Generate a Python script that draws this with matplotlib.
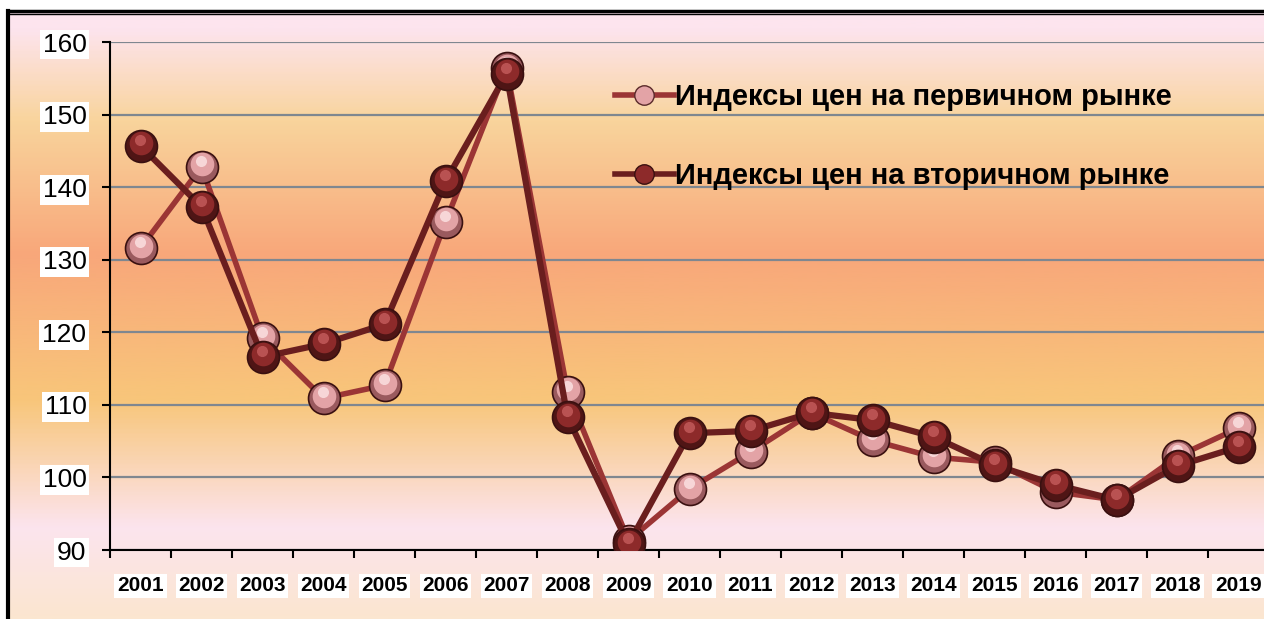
import matplotlib
matplotlib.use('Agg')
import numpy as np
import matplotlib.pyplot as plt
from matplotlib.colors import LinearSegmentedColormap
from matplotlib.transforms import offset_copy

years = ['2001', '2002', '2003', '2004', '2005', '2006', '2007', '2008', '2009', '2010',
         '2011', '2012', '2013', '2014', '2015', '2016', '2017', '2018', '2019']
primary = [131.6, 142.8, 119.2, 110.9, 112.7, 135.2, 156.4, 111.8, 91.3, 98.4,
           103.5, 108.9, 105.1, 102.8, 102.1, 98.0, 96.9, 102.9, 106.8]
secondary = [145.7, 137.3, 116.6, 118.4, 121.1, 140.8, 155.6, 108.3, 90.8, 106.1,
             106.4, 108.9, 107.9, 105.6, 101.7, 99.0, 96.9, 101.6, 104.2]
label_primary = 'Индексы цен на первичном рынке'
label_secondary = 'Индексы цен на вторичном рынке'
yticks = [90, 100, 110, 120, 130, 140, 150, 160]

plt.rcParams['font.family'] = ['Liberation Sans', 'DejaVu Sans']

W, H = 1264, 619
fig = plt.figure(figsize=(W / 100, H / 100), dpi=100)
fig.patch.set_facecolor('white')

# background panel with vertical gradient (from 650px below top down to top border)
bg = fig.add_axes([8 / W, -31 / H, 1.0, 639 / H])
stops = [(0.0, '#fbe8d0'), (0.05, '#fbe6d0'), (0.19, '#fce4ee'), (0.39, '#f8c67a'),
         (0.62, '#f8a77a'), (0.83, '#f9d49c'), (0.975, '#fde4ee'), (1.0, '#fde5ee')]
cmap = LinearSegmentedColormap.from_list('bg', stops)
grad = np.linspace(0, 1, 400).reshape(-1, 1)
bg.imshow(grad, cmap=cmap, aspect='auto', origin='lower', extent=[0, 1, 0, 1])
bg.set_xticks([])
bg.set_yticks([])
for s in ['right', 'bottom']:
    bg.spines[s].set_visible(False)
bg.spines['left'].set_linewidth(3)
bg.spines['top'].set_linewidth(2.5)
bg.axhline(1 - 2.5 / 639, color='black', lw=1)

# plot area
x0, y0 = 110, 550
ax = fig.add_axes([x0 / W, (H - y0) / H, 19 * 61 / W, (550 - 42) / H])
ax.patch.set_alpha(0)
x = np.arange(1, len(years) + 1)

ax.set_xlim(0.5, len(years) + 0.5)
ax.set_ylim(90, 160)
ax.set_yticks(yticks)
ax.grid(axis='y', color='#7f8790', lw=1.6)
ax.set_axisbelow(True)

for s in ['right', 'top']:
    ax.spines[s].set_visible(False)
ax.spines['left'].set_linewidth(1.5)
ax.spines['bottom'].set_linewidth(1.5)

ax.set_xticks(np.arange(0.5, len(years) + 1, 1))
ax.set_xticklabels([])
ax.set_xticks(x, minor=True)
ax.set_xticklabels(years, minor=True, fontsize=15, fontweight='bold')
ax.tick_params(axis='x', which='major', direction='out', length=6, width=1.5)
ax.tick_params(axis='x', which='minor', length=0, pad=19)
ax.tick_params(axis='y', direction='out', length=6, width=1.5, labelsize=19, pad=11)
for t in ax.get_xticklabels(minor=True) + ax.get_yticklabels():
    t.set_bbox(dict(facecolor='white', edgecolor='none', pad=2))


def sphere(ax, yv, base, mid, light, z, line=None, lw=4):
    ax.plot(x, yv, color=line, lw=lw, zorder=z, solid_capstyle='round')
    ax.plot(x, yv, 'o', ms=23, mfc=base, mec='#3a1010', mew=1.2, zorder=z + 0.1)
    up = offset_copy(ax.transData, fig=fig, x=0, y=2.5, units='dots')
    ax.plot(x, yv, 'o', ms=17, mfc=mid, mec='none', zorder=z + 0.2, transform=up)
    up2 = offset_copy(ax.transData, fig=fig, x=-1, y=6, units='dots')
    ax.plot(x, yv, 'o', ms=8, mfc=light, mec='none', zorder=z + 0.3, transform=up2, alpha=0.85)


sphere(ax, primary, '#9a5a5e', '#e3a3a6', '#fbe0e0', 3, line='#9b3535', lw=4)
sphere(ax, secondary, '#4f1515', '#8d2a2a', '#c25a5a', 5, line='#6a1e1e', lw=4.5)

# legend
h1, = ax.plot([], [], color='#9b3535', lw=4, marker='o', ms=14, mfc='#e3a3a6', mec='#5a2a2a')
h2, = ax.plot([], [], color='#6a1e1e', lw=4, marker='o', ms=14, mfc='#8d2a2a', mec='#3a1010')
leg = fig.legend([h1, h2], [label_primary, label_secondary], loc='upper left',
                 bbox_to_anchor=(589 / W, 1 - 57 / H), frameon=False, handlelength=2.0,
                 handletextpad=0.05, labelspacing=1.75,
                 prop={'family': 'Liberation Sans', 'weight': 'bold', 'size': 21})

fig.savefig('out.png', dpi=100, facecolor=fig.get_facecolor())
